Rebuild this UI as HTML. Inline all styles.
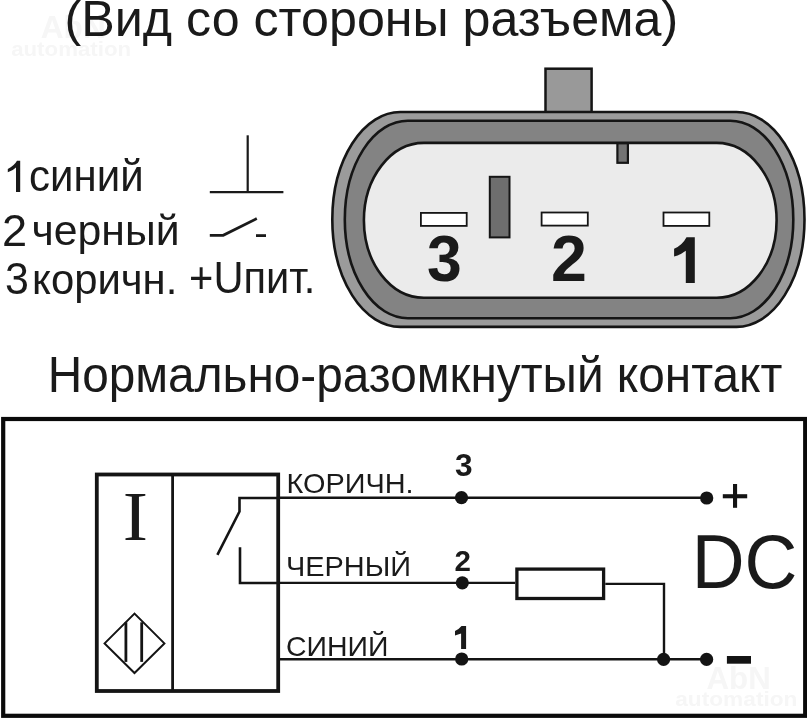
<!DOCTYPE html>
<html><head><meta charset="utf-8">
<style>
html,body{margin:0;padding:0;background:#fff;width:807px;height:719px;overflow:hidden}
svg{position:absolute;left:0;top:0;display:block;will-change:transform}
text{font-family:"Liberation Sans",sans-serif;fill:#1a1a1a}
text.serif{font-family:"Liberation Serif",serif}
.wm{fill:#f6f6f6;font-weight:bold}
</style></head>
<body>
<svg width="807" height="719" viewBox="0 0 807 719">
<text id="wm1a" x="40.78" y="38.00" font-size="31.00" class="wm" textLength="64.98" lengthAdjust="spacingAndGlyphs">AbN</text>
<text id="wm1b" x="11.17" y="56.00" font-size="19.80" class="wm" textLength="119.93" lengthAdjust="spacingAndGlyphs">automation</text>
<text id="wm2a" x="706.50" y="689.00" font-size="31.00" class="wm" textLength="64.23" lengthAdjust="spacingAndGlyphs">AbN</text>
<text id="wm2b" x="675.22" y="705.60" font-size="19.80" class="wm" textLength="122.24" lengthAdjust="spacingAndGlyphs">automation</text>
<text id="t1" x="64.49" y="35.50" font-size="50.00" textLength="613.73" lengthAdjust="spacingAndGlyphs">(Вид со стороны разъема)</text>
<rect x="545.5" y="68.7" width="46.1" height="43.7" fill="#999" stroke="#151515" stroke-width="2.5"/>
<rect x="332.3" y="112" width="472.2" height="214.9" rx="68" ry="107.45" fill="#9b9b9b" stroke="#151515" stroke-width="2.6"/>
<rect x="344.8" y="120.7" width="448.5" height="197.5" rx="63" ry="98.75" fill="#838383" stroke="#151515" stroke-width="2.6"/>
<rect x="363.9" y="142.9" width="412.7" height="154.9" rx="60" ry="77.45" fill="#ebebeb" stroke="#151515" stroke-width="2.6"/>
<rect x="617.4" y="143.3" width="10.5" height="19.5" fill="#737373" stroke="#151515" stroke-width="2.2"/>
<rect x="489.8" y="176.8" width="19.7" height="60.6" fill="#6e6e6e" stroke="#151515" stroke-width="2"/>
<rect x="420.9" y="212.9" width="45.8" height="13" fill="#fff" stroke="#151515" stroke-width="1.8"/>
<rect x="541.6" y="212.5" width="46.2" height="13.1" fill="#fff" stroke="#151515" stroke-width="1.8"/>
<rect x="663.5" y="212.5" width="45.8" height="13.4" fill="#fff" stroke="#151515" stroke-width="1.8"/>
<text id="p3" x="427.06" y="281.30" font-size="64.50" font-weight="bold" textLength="34.76" lengthAdjust="spacingAndGlyphs">3</text>
<text id="p2" x="551.00" y="280.80" font-size="64.50" font-weight="bold" textLength="35.90" lengthAdjust="spacingAndGlyphs">2</text>
<path fill="#1a1a1a" d="M694.8,237.2 L694.8,282.9 L685.8,282.9 L685.8,250.8 Q680.5,255 674.1,256.6 L674.1,248.8 Q682.5,245 686.5,237.2 Z"/>
<path fill="#1a1a1a" d="M20.2,160.8 L20.2,192 L16,192 L16,167.5 Q12.5,171 7.8,172.3 L7.8,169 Q14,166 17,160.8 Z"/>
<text id="l1t" x="29.07" y="191.20" font-size="43.50" textLength="114.54" lengthAdjust="spacingAndGlyphs">синий</text>
<text id="l2d" x="1.94" y="245.60" font-size="44.00" textLength="25.12" lengthAdjust="spacingAndGlyphs">2</text>
<text id="l2t" x="31.55" y="245.30" font-size="42.80" textLength="148.00" lengthAdjust="spacingAndGlyphs">черный</text>
<text id="l3d" x="5.05" y="294.20" font-size="44.00" textLength="23.92" lengthAdjust="spacingAndGlyphs">3</text>
<text id="l3t" x="32.11" y="293.50" font-size="42.80" textLength="145.24" lengthAdjust="spacingAndGlyphs">коричн.</text>
<text id="upit" x="189.08" y="292.50" font-size="43.50" textLength="126.16" lengthAdjust="spacingAndGlyphs">+Uпит.</text>
<g stroke="#1a1a1a" stroke-width="2.2" fill="none">
<line x1="247.7" y1="135.3" x2="247.7" y2="192"/>
<line x1="209.8" y1="192.2" x2="283.4" y2="192.2"/>
</g>
<g stroke="#1a1a1a" stroke-width="2.8" fill="none">
<polyline points="209.8,235.3 223.2,235.3 256.8,218.6"/>
<line x1="256" y1="235.6" x2="266" y2="235.6"/>
</g>
<text id="t2" x="47.68" y="392.20" font-size="50.00" textLength="734.76" lengthAdjust="spacingAndGlyphs">Нормально-разомкнутый контакт</text>
<rect x="3.2" y="419" width="802" height="296.8" fill="none" stroke="#0a0a0a" stroke-width="4.2"/>
<g stroke="#141414" fill="none">
<rect x="96.8" y="474.5" width="181.4" height="216.5" stroke-width="3.8"/>
<line x1="172.6" y1="474.5" x2="172.6" y2="691" stroke-width="2.8"/>
<polyline points="278,498 239.5,498 239.5,511.5 217.4,554.9" stroke-width="2.6"/>
<polyline points="240,547.3 240,583 278,583" stroke-width="2.6"/>
<polygon points="104.6,643.4 134.5,613.6 164.4,643.4 134.5,673" stroke-width="2"/>
<line x1="125.9" y1="622.3" x2="125.9" y2="661.9" stroke-width="2.8"/>
<line x1="141.7" y1="622.3" x2="141.7" y2="661.9" stroke-width="2.8"/>
</g>
<text id="serI" x="122.66" y="540.30" font-size="70.20" class="serif" textLength="25.23" lengthAdjust="spacingAndGlyphs">I</text>
<g stroke="#141414" fill="none" stroke-width="2.4">
<line x1="278" y1="497.7" x2="706.7" y2="497.7"/>
<line x1="278" y1="582.9" x2="515.2" y2="582.9"/>
<polyline points="605.3,583.9 664,583.9 664,659.2"/>
<line x1="278" y1="659.2" x2="706.6" y2="659.2"/>
</g>
<rect x="516.9" y="569.1" width="86.7" height="29.4" fill="#fff" stroke="#141414" stroke-width="3.3"/>
<g fill="#141414">
<circle cx="461.5" cy="497.7" r="6.6"/>
<circle cx="462.3" cy="582.8" r="6.6"/>
<circle cx="461.7" cy="659" r="6.6"/>
<circle cx="663.6" cy="659.3" r="6.6"/>
<circle cx="706.7" cy="498" r="6.6"/>
<circle cx="706.6" cy="659.4" r="6.6"/>
<rect x="722.8" y="494.2" width="24.4" height="4.1"/>
<rect x="733" y="484" width="4.1" height="23.8"/>
<rect x="726.9" y="656" width="24.1" height="7.7"/>
</g>
<path fill="#1a1a1a" d="M466.1,625.9 L466.1,648.9 L461.1,648.9 L461.1,633.4 L455,635.6 L455,631.1 Q459,629 461.5,625.9 Z"/>
<text id="w3" x="286.47" y="492.90" font-size="28.50" textLength="127.06" lengthAdjust="spacingAndGlyphs">КОРИЧН.</text>
<text id="w2" x="285.95" y="575.60" font-size="28.20" textLength="125.10" lengthAdjust="spacingAndGlyphs">ЧЕРНЫЙ</text>
<text id="w1" x="285.97" y="655.60" font-size="28.00" textLength="102.37" lengthAdjust="spacingAndGlyphs">СИНИЙ</text>
<text id="n3" x="454.96" y="475.70" font-size="30.60" font-weight="bold" textLength="17.60" lengthAdjust="spacingAndGlyphs">3</text>
<text id="n2" x="454.48" y="571.40" font-size="30.30" font-weight="bold" textLength="16.44" lengthAdjust="spacingAndGlyphs">2</text>
<text id="dc" x="691.67" y="587.70" font-size="75.40" textLength="105.66" lengthAdjust="spacingAndGlyphs">DC</text>
</svg>

</body></html>
